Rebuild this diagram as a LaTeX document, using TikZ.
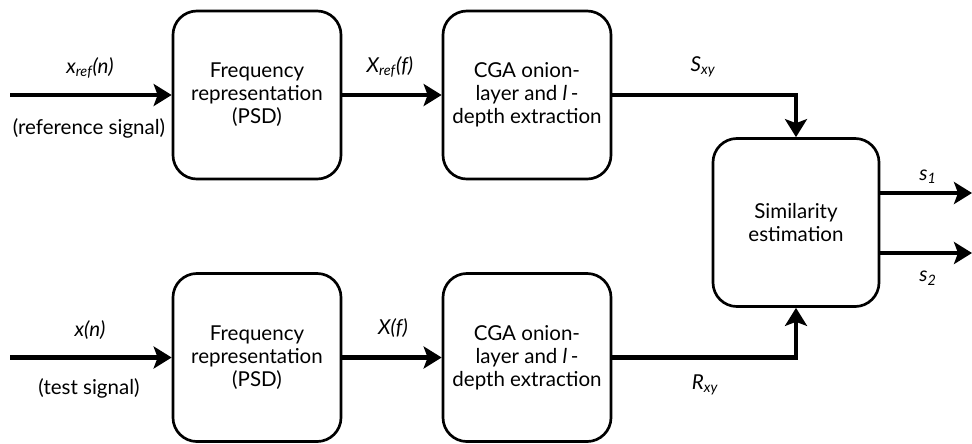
\documentclass[tikz,border=0pt]{standalone}
\usepackage{fontspec}
\setmainfont{Lato}
\usepackage{tikz}
\usetikzlibrary{arrows.meta}

\tikzset{
	block/.style={draw,line width=1.9pt,rounded corners=0.6cm,minimum width=4.2cm,minimum height=4.2cm,align=center,inner sep=2pt},
	flow/.style={line width=3.5pt,-{Stealth[length=0.45cm,width=0.55cm,inset=0.1cm]}},
	lbl/.style={inner sep=1pt}
}

\begin{document}
\begin{tikzpicture}[x=0.025cm,y=-0.025cm,font=\fontsize{14.6}{16.4}\selectfont]
	\useasboundingbox (0,0) rectangle (972,443);
	% blocks
	\node[block] (tfreq) at (257,95) {Frequency\\representation\\(PSD)};
	\node[block] (tcga) at (527,95) {CGA onion-\\layer and \textit{l}\,-\\depth extraction};
	\node[block] (bfreq) at (257,357.5) {Frequency\\representation\\(PSD)};
	\node[block] (bcga) at (527,357.5) {CGA onion-\\layer and \textit{l}\,-\\depth extraction};
	\node[block,minimum width=4.15cm] (sim) at (796,222.5) {Similarity\\estimation};
	% free ends
	\coordinate (tin) at (10,95);
	\coordinate (bin) at (10,357.5);
	\coordinate (sone) at (972,193);
	\coordinate (stwo) at (972,253);
	% connectors
	\draw[flow] (tin) -- (tfreq.west);
	\draw[flow] (tfreq.east) -- (tcga.west);
	\draw[flow] (bin) -- (bfreq.west);
	\draw[flow] (bfreq.east) -- (bcga.west);
	\draw[flow] (tcga.east) -| (sim.north);
	\draw[flow] (bcga.east) -| (sim.south);
	\draw[flow] (sim.east |- sone) -- (sone);
	\draw[flow] (sim.east |- stwo) -- (stwo);
	% labels
	\node[lbl] (lxref) at (90,68) {\textit{x\textsubscript{ref}(n)}};
	\node[lbl] (lref) at (89,128) {(reference signal)};
	\node[lbl] (lXref) at (390,67) {\textit{X\textsubscript{ref}(f)}};
	\node[lbl] (lS) at (703,67) {\textit{S\textsubscript{xy}}};
	\node[lbl] (lx) at (90,330) {\textit{x(n)}};
	\node[lbl] (ltest) at (89,388) {(test signal)};
	\node[lbl] (lX) at (393,328) {\textit{X(f)}};
	\node[lbl] (lR) at (705,385) {\textit{R\textsubscript{xy}}};
	\node[lbl] (lsone) at (928,177) {\textit{s\textsubscript{1}}};
	\node[lbl] (lstwo) at (928,278) {\textit{s\textsubscript{2}}};
\end{tikzpicture}
\end{document}
